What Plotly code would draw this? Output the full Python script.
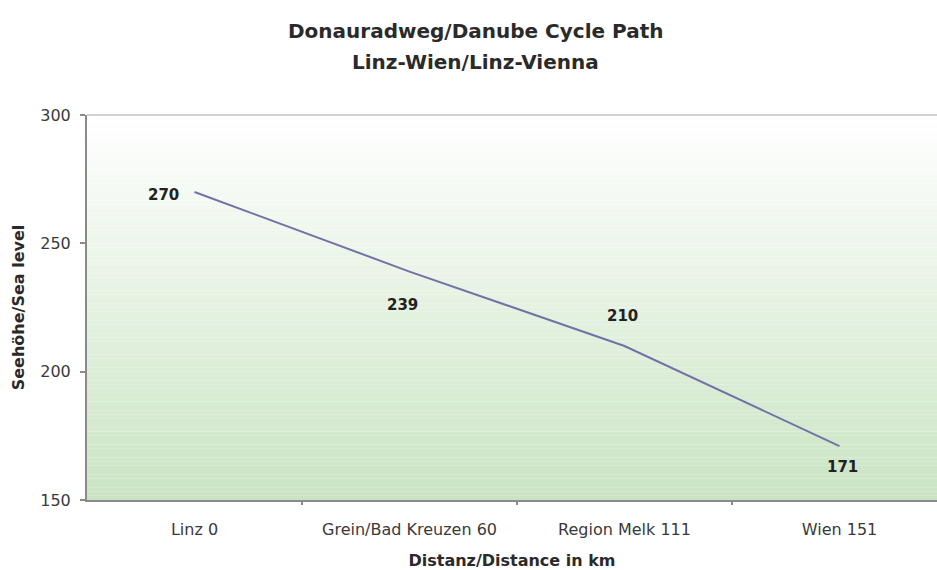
import plotly.graph_objects as go

categories = ["Linz 0", "Grein/Bad Kreuzen 60", "Region Melk 111", "Wien 151"]
elevation = [270, 239, 210, 171]
label_offsets_y = [-3, -33, 30, -21]   # label placement relative to point (px)
label_offsets_x = [-31, -7, -2, 3]

title_lines = ["Donauradweg/Danube Cycle Path", "Linz-Wien/Linz-Vienna"]
x_title = "Distanz/Distance in km"
y_title = "Seehöhe/Sea level"

FONT = "DejaVu Sans, Liberation Sans, Arial"

W, H = 937, 570
L, R, T, B = 87, 0, 115, 70
plot_h = H - T - B

fig = go.Figure()

# gradient background (white -> light green)
n = 90
top = (255, 255, 255)
bot = (202, 228, 195)
shapes = []
for i in range(n):
    t = i / (n - 1)
    c = tuple(int(round(top[k] + (bot[k] - top[k]) * t)) for k in range(3))
    y1 = 1 - i / n
    y0 = 1 - (i + 1) / n
    shapes.append(dict(type="rect", xref="paper", yref="paper", x0=0, x1=1,
                       y0=y0, y1=y1, fillcolor="rgb(%d,%d,%d)" % c,
                       line=dict(width=0), layer="below"))
shapes.append(dict(type="line", xref="paper", yref="paper", x0=0, x1=1, y0=1, y1=1,
                   line=dict(color="#d6cfcf", width=2), layer="below"))

fig.add_trace(go.Scatter(
    x=list(range(len(categories))), y=elevation, mode="lines",
    line=dict(color="#7272a6", width=2), hoverinfo="skip", showlegend=False))

for i, v in enumerate(elevation):
    fig.add_annotation(x=i, y=v, text="<b>%d</b>" % v, showarrow=False,
                       xshift=label_offsets_x[i], yshift=label_offsets_y[i],
                       font=dict(family=FONT, size=15, color="#222"))

# title lines as annotations (pixel positions converted to paper coords)
for txt, ypx in zip(title_lines, [31, 62]):
    fig.add_annotation(xref="paper", yref="paper",
                       x=(475 - L) / (W - L - R), y=(H - B - ypx) / plot_h,
                       xanchor="center", yanchor="middle", showarrow=False,
                       text="<b>" + txt + "</b>",
                       font=dict(family=FONT, size=20, color="#2a2a2a"))

plot_w = W - L - R
cat_w = 215
fig.update_layout(
    width=W, height=H,
    margin=dict(l=L, r=R, t=T, b=B, autoexpand=False),
    paper_bgcolor="white", plot_bgcolor="white",
    shapes=shapes,
    xaxis=dict(
        range=[-0.5, plot_w / cat_w - 0.5],
        tickmode="array", tickvals=list(range(len(categories))), ticktext=categories,
        showgrid=False, zeroline=False, showline=True, linecolor="#8a8a8a", linewidth=2,
        tickfont=dict(family=FONT, size=16, color="#3a3a3a"),
        ticks="", ticklabelstandoff=14,
        title=dict(text="<b>" + x_title + "</b>", standoff=20,
                   font=dict(family=FONT, size=16, color="#2a2a2a")),
    ),
    yaxis=dict(
        range=[150, 300], tickvals=[150, 200, 250, 300],
        showgrid=False, zeroline=False, showline=True, linecolor="#8a8a8a", linewidth=2,
        ticks="outside", ticklen=5, tickcolor="#8a8a8a", tickwidth=2,
        ticklabelstandoff=6,
        tickfont=dict(family=FONT, size=16, color="#3a3a3a"),
        title=dict(text="<b>" + y_title + "</b>", standoff=12,
                   font=dict(family=FONT, size=16, color="#2a2a2a")),
    ),
)

# category boundary ticks on x axis
for b in [0.5, 1.5, 2.5]:
    fig.add_shape(type="line", xref="x", yref="paper", x0=b, x1=b, y0=0, y1=-0.013,
                  line=dict(color="#8a8a8a", width=2))

fig.write_html("out.html", config={"displayModeBar": False},
               post_script="document.body.style.margin='0';document.body.style.overflow='hidden';")
